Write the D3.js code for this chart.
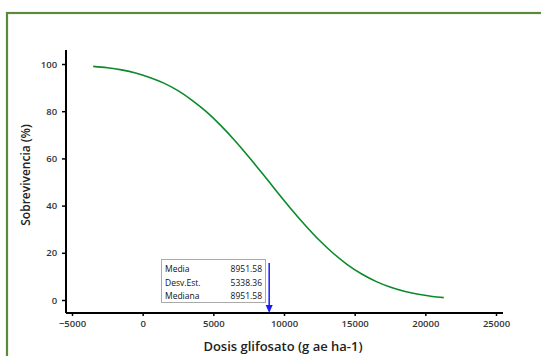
<!DOCTYPE html>
<html><head><meta charset="utf-8">
<script src="https://cdn.jsdelivr.net/npm/d3@7"></script>
<style>body{margin:0;background:#fff}svg{display:block}</style>
</head><body>
<script>
const doses = [-3500,-2500,-1500,-500,500,1500,2500,3500,4500,5500,6500,7500,8500,9500,10500,11500,12500,13500,14500,15500,16500,17500,18500,19500,20500,21300];
const survival = [99.0,98.4,97.5,96.2,94.3,91.9,88.7,84.6,79.8,74.1,67.7,60.7,53.4,45.9,38.6,31.7,25.3,19.7,14.9,11.0,7.9,5.5,3.7,2.4,1.5,1.0];
const xTicks = [-5000,0,5000,10000,15000,20000,25000];
const yTicks = [0,20,40,60,80,100];
const statLabels = ["Media","Desv.Est.","Mediana"];
const statValues = ["8951.58","5338.36","8951.58"];
const median = 8951.58;

const W=541,H=356;
const svg=d3.select("body").append("svg").attr("width",W).attr("height",H);
svg.append("rect").attr("x",7).attr("y",13).attr("width",W+10).attr("height",H+10)
  .attr("fill","none").attr("stroke","#5b8a3a").attr("stroke-width",2.2);

const x=d3.scaleLinear().domain([-5000,25000]).range([72,496]);
const y=d3.scaleLinear().domain([0,100]).range([300,64]);
const font="'Open Sans', 'DejaVu Sans', sans-serif";

// axes
const xAxis=svg.append("g").attr("transform","translate(0,313)")
  .call(d3.axisBottom(x).tickValues(xTicks).tickSize(3).tickSizeOuter(0).tickFormat(d3.format("d")));
xAxis.select(".domain").attr("d","M66,0H503").attr("stroke","#000").attr("stroke-width",2);
const yAxis=svg.append("g").attr("transform","translate(66,0)")
  .call(d3.axisLeft(y).tickValues(yTicks).tickSize(4).tickSizeOuter(0));
yAxis.select(".domain").attr("d","M0,50V313").attr("stroke","#000").attr("stroke-width",2);
[xAxis,yAxis].forEach(a=>{
  a.selectAll(".tick line").attr("stroke","#000").attr("stroke-width",1.5);
  a.selectAll(".tick text").attr("font-family",font).attr("font-size",9.5).attr("font-weight","600").attr("fill","#333");
});
xAxis.selectAll(".tick text").attr("dy","0.85em");
yAxis.selectAll(".tick text").attr("dx","-0.2em");

svg.append("text").attr("x",283).attr("y",351).attr("text-anchor","middle")
  .attr("font-family",font).attr("font-size",13).attr("font-weight","600").attr("fill","#222").text("Dosis glifosato (g ae ha-1)");
svg.append("text").attr("transform","translate(30,175) rotate(-90)").attr("text-anchor","middle")
  .attr("font-family",font).attr("font-size",12).attr("font-weight","600").attr("fill","#222").text("Sobrevivencia (%)");

// curve
svg.append("path").datum(doses.map((d,i)=>[d,survival[i]]))
  .attr("d",d3.line().x(d=>x(d[0])).y(d=>y(d[1])).curve(d3.curveMonotoneX))
  .attr("fill","none").attr("stroke","#0a8a2a").attr("stroke-width",1.6);

// stats box
svg.append("rect").attr("x",161.5).attr("y",259.5).attr("width",104).attr("height",43)
  .attr("fill","#fff").attr("stroke","#aaa").attr("stroke-width",1);
statLabels.forEach((l,i)=>{
  const ty=272+i*13.5;
  svg.append("text").attr("x",165).attr("y",ty).attr("font-family",font).attr("font-size",8.5).attr("fill","#111").text(l);
  svg.append("text").attr("x",262).attr("y",ty).attr("text-anchor","end").attr("font-family",font).attr("font-size",8.5).attr("fill","#111").text(statValues[i]);
});

// arrow at median
const mx=x(median);
svg.append("line").attr("x1",mx).attr("x2",mx).attr("y1",263).attr("y2",306)
  .attr("stroke","#1a1aff").attr("stroke-width",1.5);
svg.append("path").attr("d",`M${mx-3.5},305L${mx+3.5},305L${mx},313Z`).attr("fill","#1a1aff");
</script>
</body></html>
